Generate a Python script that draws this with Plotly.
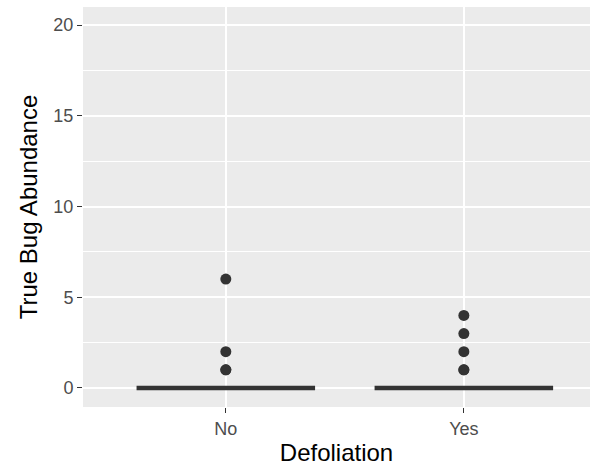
import plotly.graph_objects as go

# True bug counts per tree, grouped by defoliation treatment
groups = ["No", "Yes"]
counts_no = [0] * 40 + [1, 1, 2, 6]
counts_yes = [0] * 40 + [1, 1, 2, 3, 4]
y_ticks = [0, 5, 10, 15, 20]

dark = "#333333"
fig = go.Figure()
for name, vals in zip(groups, [counts_no, counts_yes]):
    fig.add_trace(go.Box(
        x=[name] * len(vals), y=vals, name=name,
        boxpoints="outliers", jitter=0, pointpos=0, width=0.75,
        fillcolor="white", line=dict(color=dark, width=4.5),
        marker=dict(color=dark, size=11, outliercolor=dark,
                    line=dict(width=0)),
        whiskerwidth=0, showlegend=False,
    ))

fig.update_layout(
    width=590, height=467,
    margin=dict(l=83, r=0, t=7, b=60),
    paper_bgcolor="white", plot_bgcolor="#EBEBEB",
    font=dict(family="Liberation Sans, Arial, sans-serif"),
    xaxis=dict(
        type="category", categoryorder="array", categoryarray=groups,
        range=[-0.6, 1.53],
        showgrid=True, gridcolor="white", gridwidth=1.6,
        zeroline=False, showline=False,
        ticks="outside", ticklen=5, tickwidth=1.2, tickcolor=dark,
        tickfont=dict(size=18, color="#4D4D4D"),
        title=dict(text="Defoliation", font=dict(size=24, color="black"),
                   standoff=6),
    ),
    yaxis=dict(
        range=[-1.05, 21.0],
        tickvals=y_ticks,
        showgrid=True, gridcolor="white", gridwidth=1.6,
        minor=dict(dtick=2.5, tick0=2.5, showgrid=True,
                   gridcolor="white", gridwidth=0.8),
        zeroline=False, showline=False,
        ticks="outside", ticklen=5, tickwidth=1.2, tickcolor=dark,
        tickfont=dict(size=18, color="#4D4D4D"),
        title=dict(text="True Bug Abundance", font=dict(size=24, color="black"),
                   standoff=8),
    ),
)

fig.write_html("out.html")
